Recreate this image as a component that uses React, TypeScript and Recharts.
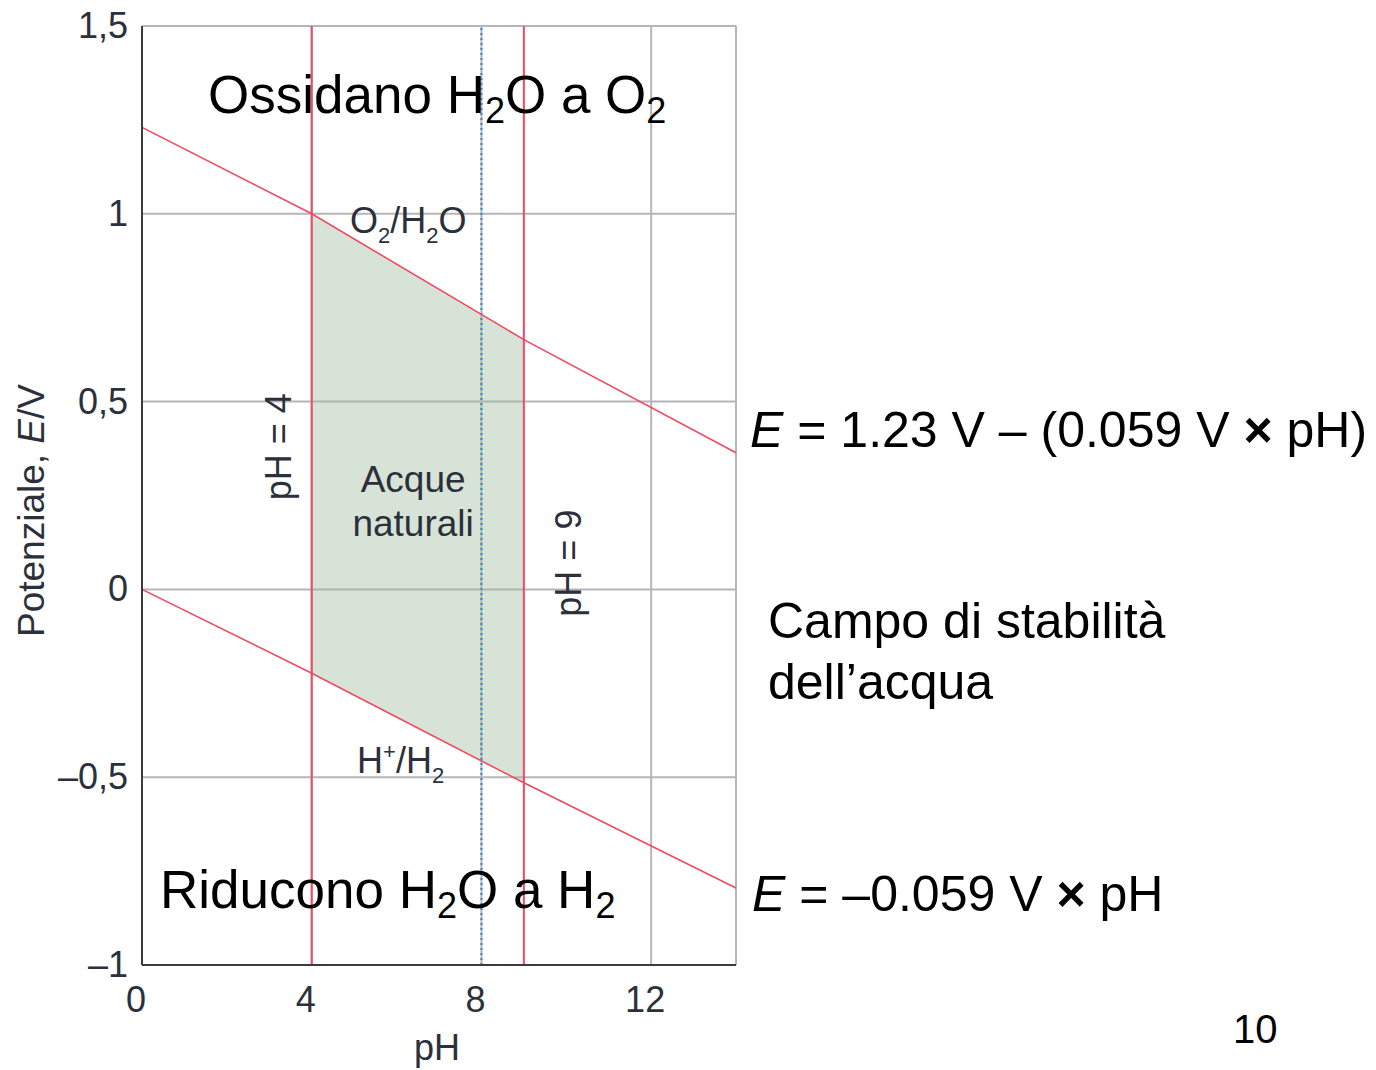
import React from "react";
import {
  ComposedChart,
  Line,
  Area,
  XAxis,
  YAxis,
  CartesianGrid,
  ReferenceLine,
  ReferenceDot,
} from "recharts";

// values (pH, potential E in volts)
const phPoints = [0, 4, 9, 14];
const o2H2oLine = [1.23, 1.0, 0.665, 0.364];
const hH2Line = [0, -0.223, -0.515, -0.795];
const naturalWaterPh = [4, 9];
const xTicks = [0, 4, 8, 12];
const yTicks = [-1, -0.5, 0, 0.5, 1, 1.5];

const data = phPoints.map((ph, i) => ({
  ph,
  top: o2H2oLine[i],
  bottom: hH2Line[i],
  band: naturalWaterPh.includes(ph) ? [hH2Line[i], o2H2oLine[i]] : null,
}));

const FONT = "'Liberation Sans', Arial, Helvetica, sans-serif";
const AXIS_TEXT = "#2b303b";
const GRID = "#b6b6ba";
const RED = "#ee4a61";

const fmt = (v: number) => (v < 0 ? "–" : "") + String(Math.abs(v)).replace(".", ",");

function YTick({ x, y, payload }: any) {
  return (
    <text x={x} y={y} dy={12} textAnchor="end" fontSize={36} fill={AXIS_TEXT} fontFamily={FONT}>
      {fmt(payload.value)}
    </text>
  );
}

function XTick({ x, y, payload }: any) {
  return (
    <text x={x} y={y} dx={-6} dy={45} textAnchor="middle" fontSize={36} fill={AXIS_TEXT} fontFamily={FONT}>
      {payload.value}
    </text>
  );
}

const yLabel = (p: any) => {
  const vb = p.viewBox;
  const cx = vb.x + 31;
  const cy = vb.y + vb.height / 2 + 15;
  return (
    <text
      x={cx}
      y={cy}
      transform={`rotate(-90 ${cx} ${cy})`}
      textAnchor="middle"
      dominantBaseline="central"
      fontSize={37}
      fill={AXIS_TEXT}
      fontFamily={FONT}
    >
      Potenziale, <tspan fontStyle="italic">E</tspan>/V
    </text>
  );
};

const xLabel = (p: any) => {
  const vb = p.viewBox;
  return (
    <text x={vb.x + 295} y={vb.y + 95} textAnchor="middle" fontSize={36} fill={AXIS_TEXT} fontFamily={FONT}>
      pH
    </text>
  );
};

const rotated = (txt: string) => (p: any) => (
  <text
    x={p.cx}
    y={p.cy}
    transform={`rotate(-90 ${p.cx} ${p.cy})`}
    textAnchor="middle"
    dominantBaseline="central"
    fontSize={36}
    fill={AXIS_TEXT}
    fontFamily={FONT}
  >
    {txt}
  </text>
);

const acqueLabel = (p: any) => (
  <text x={p.cx} y={p.cy} textAnchor="middle" fontSize={37} fill={AXIS_TEXT} fontFamily={FONT}>
    <tspan x={p.cx} dy={12}>Acque</tspan>
    <tspan x={p.cx} dy={44}>naturali</tspan>
  </text>
);

const o2Label = (p: any) => (
  <text x={p.cx} y={p.cy} fontSize={36} fill={AXIS_TEXT} fontFamily={FONT}>
    O<tspan fontSize={22} dy={10}>2</tspan>
    <tspan dy={-10}>/H</tspan>
    <tspan fontSize={22} dy={10}>2</tspan>
    <tspan dy={-10}>O</tspan>
  </text>
);

const h2Label = (p: any) => (
  <text x={p.cx} y={p.cy} fontSize={36} fill={AXIS_TEXT} fontFamily={FONT}>
    H<tspan fontSize={22} dy={-14}>+</tspan>
    <tspan dy={14}>/H</tspan>
    <tspan fontSize={22} dy={10}>2</tspan>
  </text>
);

function SlideText() {
  const common = { fontFamily: FONT, fill: "#000" };
  return (
    <svg
      width={1376}
      height={1070}
      style={{ position: "absolute", left: 0, top: 0, pointerEvents: "none" }}
    >
      <text x={208} y={113} fontSize={53} {...common}>
        Ossidano H<tspan fontSize={36} dy={10}>2</tspan>
        <tspan dy={-10}>O a O</tspan>
        <tspan fontSize={36} dy={10}>2</tspan>
      </text>
      <text x={160} y={908} fontSize={53} {...common}>
        Riducono H<tspan fontSize={36} dy={10}>2</tspan>
        <tspan dy={-10}>O a H</tspan>
        <tspan fontSize={36} dy={10}>2</tspan>
      </text>
      <text x={750} y={447} fontSize={50} {...common}>
        <tspan fontStyle="italic">E</tspan> = 1.23 V – (0.059 V <tspan fontWeight="bold">×</tspan> pH)
      </text>
      <text x={768} y={638} fontSize={50} {...common}>
        Campo di stabilità
      </text>
      <text x={768} y={699} fontSize={50} {...common}>
        dell’acqua
      </text>
      <text x={752} y={911} fontSize={50} {...common}>
        <tspan fontStyle="italic">E</tspan> = –0.059 V <tspan fontWeight="bold">×</tspan> pH
      </text>
      <text x={1233} y={1043} fontSize={40} {...common}>
        10
      </text>
    </svg>
  );
}

export default function App() {
  return (
    <div style={{ position: "absolute", left: 0, top: 0, width: 1376, height: 1070, background: "#fff" }}>
      <ComposedChart
        width={1376}
        height={1070}
        data={data}
        margin={{ top: 26, right: 640, bottom: 0, left: 0 }}
      >
        <CartesianGrid stroke={GRID} strokeWidth={2} />
        <XAxis
          dataKey="ph"
          type="number"
          domain={[0, 14]}
          ticks={xTicks}
          height={105}
          tickSize={0}
          tickLine={false}
          tick={<XTick />}
          axisLine={{ stroke: "#3c3c3c", strokeWidth: 2 }}
          label={xLabel}
        />
        <YAxis
          type="number"
          domain={[-1, 1.5]}
          ticks={yTicks}
          width={142}
          tickSize={0}
          tickMargin={14}
          tickLine={false}
          tick={<YTick />}
          axisLine={{ stroke: "#3c3c3c", strokeWidth: 2 }}
          label={yLabel}
        />
        <Area
          dataKey="band"
          type="linear"
          stroke="none"
          fill="#9db89b"
          fillOpacity={0.4}
          isAnimationActive={false}
        />
        <ReferenceLine x={14} stroke={GRID} strokeWidth={2} />
        <ReferenceLine x={4} stroke={RED} strokeWidth={2} />
        <ReferenceLine x={9} stroke={RED} strokeWidth={2} />
        <ReferenceLine x={8} stroke="#2f86c9" strokeWidth={2} strokeDasharray="2 3" />
        <Line dataKey="top" type="linear" stroke={RED} strokeWidth={1.6} dot={false} isAnimationActive={false} />
        <Line dataKey="bottom" type="linear" stroke={RED} strokeWidth={1.6} dot={false} isAnimationActive={false} />
        <ReferenceDot x={3.21} y={0.38} r={0} shape={rotated("pH = 4")} />
        <ReferenceDot x={10.05} y={0.07} r={0} shape={rotated("pH = 9")} />
        <ReferenceDot x={6.39} y={0.29} r={0} shape={acqueLabel} />
        <ReferenceDot x={4.9} y={0.95} r={0} shape={o2Label} />
        <ReferenceDot x={5.07} y={-0.49} r={0} shape={h2Label} />
      </ComposedChart>
      <SlideText />
    </div>
  );
}
